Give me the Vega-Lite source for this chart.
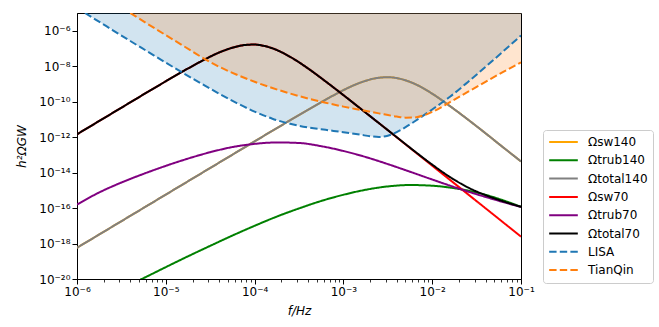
{
  "$schema": "https://vega.github.io/schema/vega-lite/v6.json",
  "autosize": "none",
  "padding": {"left": 77, "top": 13, "right": 138, "bottom": 48},
  "width": 444,
  "height": 266,
  "datasets": {
    "c": [
      {"s":"Ωsw140","f":1e-6,"v":5.754e-19},{"s":"Ωsw140","f":1.585e-6,"v":2.291e-18},{"s":"Ωsw140","f":2.512e-6,"v":9.120e-18},{"s":"Ωsw140","f":3.981e-6,"v":3.631e-17},{"s":"Ωsw140","f":6.310e-6,"v":1.445e-16},{"s":"Ωsw140","f":1e-5,"v":5.754e-16},{"s":"Ωsw140","f":1.585e-5,"v":2.291e-15},{"s":"Ωsw140","f":2.512e-5,"v":9.120e-15},{"s":"Ωsw140","f":3.981e-5,"v":3.631e-14},{"s":"Ωsw140","f":6.310e-5,"v":1.445e-13},{"s":"Ωsw140","f":1e-4,"v":5.754e-13},{"s":"Ωsw140","f":1.585e-4,"v":2.291e-12},{"s":"Ωsw140","f":2.512e-4,"v":8.913e-12},{"s":"Ωsw140","f":3.981e-4,"v":3.467e-11},{"s":"Ωsw140","f":6.310e-4,"v":1.288e-10},{"s":"Ωsw140","f":1e-3,"v":4.467e-10},{"s":"Ωsw140","f":1.585e-3,"v":1.230e-9},{"s":"Ωsw140","f":2.512e-3,"v":2.239e-9},{"s":"Ωsw140","f":3.162e-3,"v":2.399e-9},{"s":"Ωsw140","f":3.981e-3,"v":2.138e-9},{"s":"Ωsw140","f":6.310e-3,"v":1.023e-9},{"s":"Ωsw140","f":1e-2,"v":2.818e-10},{"s":"Ωsw140","f":1.585e-2,"v":5.623e-11},{"s":"Ωsw140","f":2.512e-2,"v":1.000e-11},{"s":"Ωsw140","f":3.981e-2,"v":1.660e-12},{"s":"Ωsw140","f":6.310e-2,"v":2.630e-13},{"s":"Ωsw140","f":1e-1,"v":4.266e-14},

      {"s":"Ωtotal140","f":1e-6,"v":5.754e-19},{"s":"Ωtotal140","f":1.585e-6,"v":2.291e-18},{"s":"Ωtotal140","f":2.512e-6,"v":9.120e-18},{"s":"Ωtotal140","f":3.981e-6,"v":3.631e-17},{"s":"Ωtotal140","f":6.310e-6,"v":1.445e-16},{"s":"Ωtotal140","f":1e-5,"v":5.754e-16},{"s":"Ωtotal140","f":1.585e-5,"v":2.291e-15},{"s":"Ωtotal140","f":2.512e-5,"v":9.120e-15},{"s":"Ωtotal140","f":3.981e-5,"v":3.631e-14},{"s":"Ωtotal140","f":6.310e-5,"v":1.445e-13},{"s":"Ωtotal140","f":1e-4,"v":5.754e-13},{"s":"Ωtotal140","f":1.585e-4,"v":2.291e-12},{"s":"Ωtotal140","f":2.512e-4,"v":8.913e-12},{"s":"Ωtotal140","f":3.981e-4,"v":3.467e-11},{"s":"Ωtotal140","f":6.310e-4,"v":1.288e-10},{"s":"Ωtotal140","f":1e-3,"v":4.467e-10},{"s":"Ωtotal140","f":1.585e-3,"v":1.230e-9},{"s":"Ωtotal140","f":2.512e-3,"v":2.239e-9},{"s":"Ωtotal140","f":3.162e-3,"v":2.399e-9},{"s":"Ωtotal140","f":3.981e-3,"v":2.138e-9},{"s":"Ωtotal140","f":6.310e-3,"v":1.023e-9},{"s":"Ωtotal140","f":1e-2,"v":2.818e-10},{"s":"Ωtotal140","f":1.585e-2,"v":5.623e-11},{"s":"Ωtotal140","f":2.512e-2,"v":1.000e-11},{"s":"Ωtotal140","f":3.981e-2,"v":1.660e-12},{"s":"Ωtotal140","f":6.310e-2,"v":2.630e-13},{"s":"Ωtotal140","f":1e-1,"v":4.266e-14},

      {"s":"Ωtrub140","f":3.162e-6,"v":2.818e-21},{"s":"Ωtrub140","f":5.623e-6,"v":1.122e-20},{"s":"Ωtrub140","f":1e-5,"v":4.677e-20},{"s":"Ωtrub140","f":1.778e-5,"v":1.905e-19},{"s":"Ωtrub140","f":3.162e-5,"v":7.413e-19},{"s":"Ωtrub140","f":5.623e-5,"v":2.818e-18},{"s":"Ωtrub140","f":1e-4,"v":1.000e-17},{"s":"Ωtrub140","f":1.778e-4,"v":3.311e-17},{"s":"Ωtrub140","f":3.162e-4,"v":9.550e-17},{"s":"Ωtrub140","f":5.623e-4,"v":2.512e-16},{"s":"Ωtrub140","f":1e-3,"v":5.623e-16},{"s":"Ωtrub140","f":1.778e-3,"v":1.072e-15},{"s":"Ωtrub140","f":3.162e-3,"v":1.660e-15},{"s":"Ωtrub140","f":5.623e-3,"v":1.995e-15},{"s":"Ωtrub140","f":1e-2,"v":1.820e-15},{"s":"Ωtrub140","f":1.778e-2,"v":1.318e-15},{"s":"Ωtrub140","f":3.162e-2,"v":7.586e-16},{"s":"Ωtrub140","f":5.623e-2,"v":3.311e-16},{"s":"Ωtrub140","f":1e-1,"v":1.175e-16},

      {"s":"Ωsw70","f":1e-6,"v":1.445e-12},{"s":"Ωsw70","f":1.585e-6,"v":5.754e-12},{"s":"Ωsw70","f":2.512e-6,"v":2.291e-11},{"s":"Ωsw70","f":3.981e-6,"v":9.120e-11},{"s":"Ωsw70","f":6.310e-6,"v":3.631e-10},{"s":"Ωsw70","f":1e-5,"v":1.413e-9},{"s":"Ωsw70","f":1.585e-5,"v":5.370e-9},{"s":"Ωsw70","f":2.512e-5,"v":1.905e-8},{"s":"Ωsw70","f":3.981e-5,"v":5.888e-8},{"s":"Ωsw70","f":6.310e-5,"v":1.288e-7},{"s":"Ωsw70","f":7.943e-5,"v":1.585e-7},{"s":"Ωsw70","f":1e-4,"v":1.660e-7},{"s":"Ωsw70","f":1.259e-4,"v":1.413e-7},{"s":"Ωsw70","f":1.585e-4,"v":1.023e-7},{"s":"Ωsw70","f":2.512e-4,"v":3.388e-8},{"s":"Ωsw70","f":3.981e-4,"v":7.586e-9},{"s":"Ωsw70","f":6.310e-4,"v":1.380e-9},{"s":"Ωsw70","f":1e-3,"v":2.344e-10},{"s":"Ωsw70","f":1.585e-3,"v":3.802e-11},{"s":"Ωsw70","f":2.512e-3,"v":6.166e-12},{"s":"Ωsw70","f":3.981e-3,"v":9.772e-13},{"s":"Ωsw70","f":6.310e-3,"v":1.549e-13},{"s":"Ωsw70","f":1e-2,"v":2.455e-14},{"s":"Ωsw70","f":1.585e-2,"v":3.890e-15},{"s":"Ωsw70","f":2.512e-2,"v":6.166e-16},{"s":"Ωsw70","f":3.981e-2,"v":9.772e-17},{"s":"Ωsw70","f":6.310e-2,"v":1.549e-17},{"s":"Ωsw70","f":1e-1,"v":2.455e-18},

      {"s":"Ωtrub70","f":1e-6,"v":1.585e-16},{"s":"Ωtrub70","f":1.778e-6,"v":7.586e-16},{"s":"Ωtrub70","f":3.162e-6,"v":2.754e-15},{"s":"Ωtrub70","f":5.623e-6,"v":8.511e-15},{"s":"Ωtrub70","f":1e-5,"v":2.399e-14},{"s":"Ωtrub70","f":1.778e-5,"v":6.166e-14},{"s":"Ωtrub70","f":3.162e-5,"v":1.413e-13},{"s":"Ωtrub70","f":5.623e-5,"v":2.754e-13},{"s":"Ωtrub70","f":1e-4,"v":4.169e-13},{"s":"Ωtrub70","f":1.778e-4,"v":5.012e-13},{"s":"Ωtrub70","f":3.162e-4,"v":4.677e-13},{"s":"Ωtrub70","f":5.623e-4,"v":3.090e-13},{"s":"Ωtrub70","f":1e-3,"v":1.660e-13},{"s":"Ωtrub70","f":1.778e-3,"v":7.586e-14},{"s":"Ωtrub70","f":3.162e-3,"v":3.020e-14},{"s":"Ωtrub70","f":5.623e-3,"v":1.122e-14},{"s":"Ωtrub70","f":1e-2,"v":4.074e-15},{"s":"Ωtrub70","f":1.778e-2,"v":1.514e-15},{"s":"Ωtrub70","f":3.162e-2,"v":6.026e-16},{"s":"Ωtrub70","f":5.623e-2,"v":2.570e-16},{"s":"Ωtrub70","f":1e-1,"v":1.148e-16},

      {"s":"Ωtotal70","f":1e-6,"v":1.445e-12},{"s":"Ωtotal70","f":1.585e-6,"v":5.754e-12},{"s":"Ωtotal70","f":2.512e-6,"v":2.291e-11},{"s":"Ωtotal70","f":3.981e-6,"v":9.120e-11},{"s":"Ωtotal70","f":6.310e-6,"v":3.631e-10},{"s":"Ωtotal70","f":1e-5,"v":1.413e-9},{"s":"Ωtotal70","f":1.585e-5,"v":5.370e-9},{"s":"Ωtotal70","f":2.512e-5,"v":1.905e-8},{"s":"Ωtotal70","f":3.981e-5,"v":5.888e-8},{"s":"Ωtotal70","f":6.310e-5,"v":1.288e-7},{"s":"Ωtotal70","f":7.943e-5,"v":1.585e-7},{"s":"Ωtotal70","f":1e-4,"v":1.660e-7},{"s":"Ωtotal70","f":1.259e-4,"v":1.413e-7},{"s":"Ωtotal70","f":1.585e-4,"v":1.023e-7},{"s":"Ωtotal70","f":2.512e-4,"v":3.388e-8},{"s":"Ωtotal70","f":3.981e-4,"v":7.586e-9},{"s":"Ωtotal70","f":6.310e-4,"v":1.380e-9},{"s":"Ωtotal70","f":1e-3,"v":2.344e-10},{"s":"Ωtotal70","f":1.585e-3,"v":3.802e-11},{"s":"Ωtotal70","f":2.512e-3,"v":6.166e-12},{"s":"Ωtotal70","f":3.981e-3,"v":1.000e-12},{"s":"Ωtotal70","f":6.310e-3,"v":1.622e-13},{"s":"Ωtotal70","f":1e-2,"v":2.818e-14},{"s":"Ωtotal70","f":1.585e-2,"v":5.623e-15},{"s":"Ωtotal70","f":2.512e-2,"v":1.479e-15},{"s":"Ωtotal70","f":3.981e-2,"v":5.370e-16},{"s":"Ωtotal70","f":6.310e-2,"v":2.399e-16},{"s":"Ωtotal70","f":1e-1,"v":1.175e-16},

      {"s":"LISA","f":1.230e-6,"v":1.000e-5},{"s":"LISA","f":1.585e-6,"v":4.571e-6},{"s":"LISA","f":2.512e-6,"v":1.096e-6},{"s":"LISA","f":3.981e-6,"v":2.630e-7},{"s":"LISA","f":6.310e-6,"v":6.457e-8},{"s":"LISA","f":1e-5,"v":1.585e-8},{"s":"LISA","f":1.585e-5,"v":3.981e-9},{"s":"LISA","f":2.512e-5,"v":1.047e-9},{"s":"LISA","f":3.981e-5,"v":2.818e-10},{"s":"LISA","f":6.310e-5,"v":8.318e-11},{"s":"LISA","f":1e-4,"v":2.754e-11},{"s":"LISA","f":1.585e-4,"v":1.096e-11},{"s":"LISA","f":2.512e-4,"v":5.623e-12},{"s":"LISA","f":3.981e-4,"v":3.548e-12},{"s":"LISA","f":6.310e-4,"v":2.570e-12},{"s":"LISA","f":1e-3,"v":1.905e-12},{"s":"LISA","f":1.585e-3,"v":1.349e-12},{"s":"LISA","f":1.995e-3,"v":1.122e-12},{"s":"LISA","f":2.512e-3,"v":1.023e-12},{"s":"LISA","f":3.162e-3,"v":1.202e-12},{"s":"LISA","f":3.981e-3,"v":1.905e-12},{"s":"LISA","f":5.012e-3,"v":3.631e-12},{"s":"LISA","f":6.310e-3,"v":7.586e-12},{"s":"LISA","f":1e-2,"v":3.631e-11},{"s":"LISA","f":1.585e-2,"v":1.905e-10},{"s":"LISA","f":2.512e-2,"v":1.259e-9},{"s":"LISA","f":3.981e-2,"v":9.120e-9},{"s":"LISA","f":6.310e-2,"v":6.918e-8},{"s":"LISA","f":1e-1,"v":5.370e-7},

      {"s":"TianQin","f":3.981e-6,"v":1.000e-5},{"s":"TianQin","f":6.310e-6,"v":2.344e-6},{"s":"TianQin","f":1e-5,"v":5.623e-7},{"s":"TianQin","f":1.585e-5,"v":1.380e-7},{"s":"TianQin","f":2.512e-5,"v":3.311e-8},{"s":"TianQin","f":3.981e-5,"v":9.333e-9},{"s":"TianQin","f":6.310e-5,"v":3.311e-9},{"s":"TianQin","f":1e-4,"v":1.318e-9},{"s":"TianQin","f":1.585e-4,"v":5.888e-10},{"s":"TianQin","f":2.512e-4,"v":2.884e-10},{"s":"TianQin","f":3.981e-4,"v":1.514e-10},{"s":"TianQin","f":6.310e-4,"v":8.710e-11},{"s":"TianQin","f":1e-3,"v":5.248e-11},{"s":"TianQin","f":1.585e-3,"v":3.388e-11},{"s":"TianQin","f":2.512e-3,"v":2.188e-11},{"s":"TianQin","f":3.981e-3,"v":1.445e-11},{"s":"TianQin","f":5.012e-3,"v":1.259e-11},{"s":"TianQin","f":6.310e-3,"v":1.288e-11},{"s":"TianQin","f":7.943e-3,"v":1.660e-11},{"s":"TianQin","f":1e-2,"v":2.630e-11},{"s":"TianQin","f":1.585e-2,"v":9.333e-11},{"s":"TianQin","f":2.512e-2,"v":3.548e-10},{"s":"TianQin","f":3.981e-2,"v":1.318e-9},{"s":"TianQin","f":6.310e-2,"v":4.786e-9},{"s":"TianQin","f":1e-1,"v":1.660e-8}
    ]
  },
  "data": {"name": "c"},
  "encoding": {
    "x": {
      "field": "f", "type": "quantitative",
      "scale": {"type": "log", "domain": [1e-6, 0.1], "nice": false},
      "axis": {
        "title": "f/Hz",
        "values": [1e-6,2e-6,3e-6,4e-6,5e-6,6e-6,7e-6,8e-6,9e-6,1e-5,2e-5,3e-5,4e-5,5e-5,6e-5,7e-5,8e-5,9e-5,1e-4,2e-4,3e-4,4e-4,5e-4,6e-4,7e-4,8e-4,9e-4,1e-3,2e-3,3e-3,4e-3,5e-3,6e-3,7e-3,8e-3,9e-3,1e-2,2e-2,3e-2,4e-2,5e-2,6e-2,7e-2,8e-2,9e-2,1e-1],
        "labelExpr": "abs(log(datum.value)/LN10 - round(log(datum.value)/LN10)) < 0.01 ? '10⁻' + substring('⁰¹²³⁴⁵⁶⁷⁸⁹', round(-log(datum.value)/LN10) % 10, round(-log(datum.value)/LN10) % 10 + 1) : ''",
        "labelOverlap": false,
        "labelFlush": false,
        "tickSize": {"condition": {"test": "abs(log(datum.value)/LN10 - round(log(datum.value)/LN10)) < 0.01", "value": 5}, "value": 3},
        "tickWidth": {"condition": {"test": "abs(log(datum.value)/LN10 - round(log(datum.value)/LN10)) < 0.01", "value": 1}, "value": 0.8},
        "labelPadding": 2,
        "titlePadding": 8
      }
    },
    "y": {
      "field": "v", "type": "quantitative",
      "scale": {"type": "log", "domain": [1e-20, 1e-5], "nice": false},
      "axis": {
        "title": "h²ΩGW",
        "values": [1e-20,1e-18,1e-16,1e-14,1e-12,1e-10,1e-8,1e-6],
        "labelExpr": "'10⁻' + (round(-log(datum.value)/LN10) >= 10 ? substring('⁰¹²³⁴⁵⁶⁷⁸⁹', floor(round(-log(datum.value)/LN10)/10), floor(round(-log(datum.value)/LN10)/10) + 1) : '') + substring('⁰¹²³⁴⁵⁶⁷⁸⁹', round(-log(datum.value)/LN10) % 10, round(-log(datum.value)/LN10) % 10 + 1)",
        "tickSize": 5,
        "labelPadding": 2,
        "titlePadding": 10
      }
    }
  },
  "layer": [
    {"transform": [{"filter": "datum.s === 'LISA'"}], "mark": {"type": "area", "interpolate": "monotone", "fill": "#1f77b4", "fillOpacity": 0.2, "clip": true}, "encoding": {"y2": {"datum": 1e-5}}},
    {"transform": [{"filter": "datum.s === 'TianQin'"}], "mark": {"type": "area", "interpolate": "monotone", "fill": "#ff7f0e", "fillOpacity": 0.2, "clip": true}, "encoding": {"y2": {"datum": 1e-5}}},
    {"transform": [{"filter": "datum.s === 'Ωsw140'"}], "mark": {"type": "line", "interpolate": "monotone", "strokeWidth": 2, "clip": true},
     "encoding": {"color": {"field": "s", "type": "nominal", "title": null, "scale": {"domain": ["Ωsw140","Ωtrub140","Ωtotal140","Ωsw70","Ωtrub70","Ωtotal70","LISA","TianQin"], "range": ["#ffa500","#008000","#808080","#ff0000","#800080","#000000","#1f77b4","#ff7f0e"]}},
                  "strokeDash": {"field": "s", "type": "nominal", "title": null, "scale": {"domain": ["Ωsw140","Ωtrub140","Ωtotal140","Ωsw70","Ωtrub70","Ωtotal70","LISA","TianQin"], "range": [[1,0],[1,0],[1,0],[1,0],[1,0],[1,0],[7.4,3.2],[7.4,3.2]]}}}},
    {"transform": [{"filter": "datum.s === 'Ωtrub140'"}], "mark": {"type": "line", "interpolate": "monotone", "strokeWidth": 2, "clip": true},
     "encoding": {"color": {"field": "s", "type": "nominal", "title": null, "scale": {"domain": ["Ωsw140","Ωtrub140","Ωtotal140","Ωsw70","Ωtrub70","Ωtotal70","LISA","TianQin"], "range": ["#ffa500","#008000","#808080","#ff0000","#800080","#000000","#1f77b4","#ff7f0e"]}},
                  "strokeDash": {"field": "s", "type": "nominal", "title": null, "scale": {"domain": ["Ωsw140","Ωtrub140","Ωtotal140","Ωsw70","Ωtrub70","Ωtotal70","LISA","TianQin"], "range": [[1,0],[1,0],[1,0],[1,0],[1,0],[1,0],[7.4,3.2],[7.4,3.2]]}}}},
    {"transform": [{"filter": "datum.s === 'Ωtotal140'"}], "mark": {"type": "line", "interpolate": "monotone", "strokeWidth": 2, "clip": true},
     "encoding": {"color": {"field": "s", "type": "nominal", "title": null, "scale": {"domain": ["Ωsw140","Ωtrub140","Ωtotal140","Ωsw70","Ωtrub70","Ωtotal70","LISA","TianQin"], "range": ["#ffa500","#008000","#808080","#ff0000","#800080","#000000","#1f77b4","#ff7f0e"]}},
                  "strokeDash": {"field": "s", "type": "nominal", "title": null, "scale": {"domain": ["Ωsw140","Ωtrub140","Ωtotal140","Ωsw70","Ωtrub70","Ωtotal70","LISA","TianQin"], "range": [[1,0],[1,0],[1,0],[1,0],[1,0],[1,0],[7.4,3.2],[7.4,3.2]]}}}},
    {"transform": [{"filter": "datum.s === 'Ωsw70'"}], "mark": {"type": "line", "interpolate": "monotone", "strokeWidth": 2, "clip": true},
     "encoding": {"color": {"field": "s", "type": "nominal", "title": null, "scale": {"domain": ["Ωsw140","Ωtrub140","Ωtotal140","Ωsw70","Ωtrub70","Ωtotal70","LISA","TianQin"], "range": ["#ffa500","#008000","#808080","#ff0000","#800080","#000000","#1f77b4","#ff7f0e"]}},
                  "strokeDash": {"field": "s", "type": "nominal", "title": null, "scale": {"domain": ["Ωsw140","Ωtrub140","Ωtotal140","Ωsw70","Ωtrub70","Ωtotal70","LISA","TianQin"], "range": [[1,0],[1,0],[1,0],[1,0],[1,0],[1,0],[7.4,3.2],[7.4,3.2]]}}}},
    {"transform": [{"filter": "datum.s === 'Ωtrub70'"}], "mark": {"type": "line", "interpolate": "monotone", "strokeWidth": 2, "clip": true},
     "encoding": {"color": {"field": "s", "type": "nominal", "title": null, "scale": {"domain": ["Ωsw140","Ωtrub140","Ωtotal140","Ωsw70","Ωtrub70","Ωtotal70","LISA","TianQin"], "range": ["#ffa500","#008000","#808080","#ff0000","#800080","#000000","#1f77b4","#ff7f0e"]}},
                  "strokeDash": {"field": "s", "type": "nominal", "title": null, "scale": {"domain": ["Ωsw140","Ωtrub140","Ωtotal140","Ωsw70","Ωtrub70","Ωtotal70","LISA","TianQin"], "range": [[1,0],[1,0],[1,0],[1,0],[1,0],[1,0],[7.4,3.2],[7.4,3.2]]}}}},
    {"transform": [{"filter": "datum.s === 'Ωtotal70'"}], "mark": {"type": "line", "interpolate": "monotone", "strokeWidth": 2, "clip": true},
     "encoding": {"color": {"field": "s", "type": "nominal", "title": null, "scale": {"domain": ["Ωsw140","Ωtrub140","Ωtotal140","Ωsw70","Ωtrub70","Ωtotal70","LISA","TianQin"], "range": ["#ffa500","#008000","#808080","#ff0000","#800080","#000000","#1f77b4","#ff7f0e"]}},
                  "strokeDash": {"field": "s", "type": "nominal", "title": null, "scale": {"domain": ["Ωsw140","Ωtrub140","Ωtotal140","Ωsw70","Ωtrub70","Ωtotal70","LISA","TianQin"], "range": [[1,0],[1,0],[1,0],[1,0],[1,0],[1,0],[7.4,3.2],[7.4,3.2]]}}}},
    {"transform": [{"filter": "datum.s === 'LISA'"}], "mark": {"type": "line", "interpolate": "monotone", "strokeWidth": 2, "clip": true},
     "encoding": {"color": {"field": "s", "type": "nominal", "title": null, "scale": {"domain": ["Ωsw140","Ωtrub140","Ωtotal140","Ωsw70","Ωtrub70","Ωtotal70","LISA","TianQin"], "range": ["#ffa500","#008000","#808080","#ff0000","#800080","#000000","#1f77b4","#ff7f0e"]}},
                  "strokeDash": {"field": "s", "type": "nominal", "title": null, "scale": {"domain": ["Ωsw140","Ωtrub140","Ωtotal140","Ωsw70","Ωtrub70","Ωtotal70","LISA","TianQin"], "range": [[1,0],[1,0],[1,0],[1,0],[1,0],[1,0],[7.4,3.2],[7.4,3.2]]}}}},
    {"transform": [{"filter": "datum.s === 'TianQin'"}], "mark": {"type": "line", "interpolate": "monotone", "strokeWidth": 2, "clip": true},
     "encoding": {"color": {"field": "s", "type": "nominal", "title": null, "scale": {"domain": ["Ωsw140","Ωtrub140","Ωtotal140","Ωsw70","Ωtrub70","Ωtotal70","LISA","TianQin"], "range": ["#ffa500","#008000","#808080","#ff0000","#800080","#000000","#1f77b4","#ff7f0e"]}},
                  "strokeDash": {"field": "s", "type": "nominal", "title": null, "scale": {"domain": ["Ωsw140","Ωtrub140","Ωtotal140","Ωsw70","Ωtrub70","Ωtotal70","LISA","TianQin"], "range": [[1,0],[1,0],[1,0],[1,0],[1,0],[1,0],[7.4,3.2],[7.4,3.2]]}}}}
  ],
  "config": {
    "font": "DejaVu Sans",
    "background": "white",
    "view": {"stroke": "black", "strokeWidth": 1},
    "axis": {
      "grid": false,
      "domainColor": "black",
      "tickColor": "black",
      "labelColor": "black",
      "titleColor": "black",
      "labelFont": "DejaVu Sans",
      "titleFont": "DejaVu Sans",
      "labelFontSize": 12,
      "titleFontSize": 12,
      "titleFontWeight": "normal",
      "titleFontStyle": "italic"
    },
    "legend": {
      "orient": "none",
      "legendX": 466,
      "legendY": 117,
      "symbolType": "stroke",
      "symbolSize": 820,
      "symbolStrokeWidth": 2,
      "labelFont": "DejaVu Sans",
      "labelFontSize": 12,
      "labelColor": "black",
      "labelOffset": 9,
      "rowPadding": 4.3,
      "clipHeight": 14,
      "padding": 5,
      "strokeColor": "#cccccc",
      "fillColor": "rgba(255,255,255,0.8)",
      "cornerRadius": 3
    }
  }
}
